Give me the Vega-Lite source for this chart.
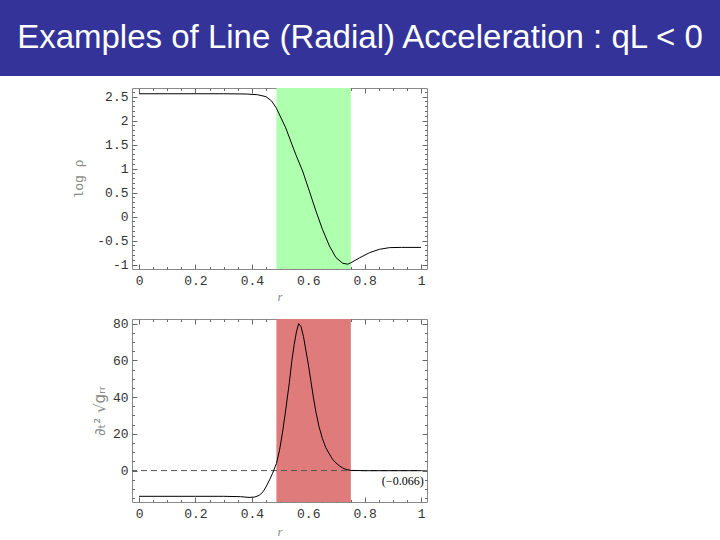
{
  "$schema": "https://vega.github.io/schema/vega-lite/v6.json",
  "padding": 0,
  "background": "white",
  "spacing": 6,
  "config": {
    "view": {"stroke": null},
    "axis": {
      "grid": false,
      "domain": false,
      "labelFont": "Liberation Mono",
      "labelFontSize": 13,
      "labelColor": "#333333",
      "labelOverlap": false,
      "labelBound": false,
      "tickColor": "#666666",
      "tickWidth": 1,
      "tickSize": 5,
      "offset": -5,
      "labelPadding": 4,
      "titleFontWeight": "normal",
      "titleColor": "#8a8a8a",
      "titleFontSize": 13
    }
  },
  "datasets": {
    "banner": [{"t": "Examples of Line (Radial) Acceleration :  qL < 0"}],
    "blank": [{"t": ""}],
    "band": [{"x0": 0.487, "x1": 0.751}],
    "zero": [{"v": 0}],
    "note": [{"r": 0.935, "v": -5.5, "label": "(−0.066)"}],
    "rho": [
      {"r": 0, "v": 2.56}, {"r": 0.1, "v": 2.56}, {"r": 0.2, "v": 2.56}, {"r": 0.3, "v": 2.56},
      {"r": 0.38, "v": 2.555}, {"r": 0.42, "v": 2.54}, {"r": 0.45, "v": 2.5}, {"r": 0.47, "v": 2.41},
      {"r": 0.487, "v": 2.26}, {"r": 0.52, "v": 1.85}, {"r": 0.556, "v": 1.29}, {"r": 0.58, "v": 0.95},
      {"r": 0.604, "v": 0.53}, {"r": 0.627, "v": 0.12}, {"r": 0.65, "v": -0.26}, {"r": 0.675, "v": -0.61},
      {"r": 0.698, "v": -0.85}, {"r": 0.722, "v": -0.97}, {"r": 0.74, "v": -0.99}, {"r": 0.751, "v": -0.96},
      {"r": 0.781, "v": -0.86}, {"r": 0.817, "v": -0.75}, {"r": 0.852, "v": -0.68}, {"r": 0.888, "v": -0.645},
      {"r": 0.93, "v": -0.64}, {"r": 1.0, "v": -0.64}
    ],
    "acc": [
      {"r": 0, "v": -14}, {"r": 0.2, "v": -14}, {"r": 0.3, "v": -14}, {"r": 0.36, "v": -14.2},
      {"r": 0.39, "v": -14.6}, {"r": 0.41, "v": -14.4}, {"r": 0.426, "v": -13.5}, {"r": 0.44, "v": -11.5},
      {"r": 0.45, "v": -8.9}, {"r": 0.463, "v": -5}, {"r": 0.473, "v": -1.6}, {"r": 0.487, "v": 3.8},
      {"r": 0.498, "v": 11}, {"r": 0.509, "v": 21}, {"r": 0.52, "v": 33}, {"r": 0.533, "v": 48},
      {"r": 0.542, "v": 60}, {"r": 0.55, "v": 68.5}, {"r": 0.558, "v": 75.5}, {"r": 0.566, "v": 80},
      {"r": 0.574, "v": 78.5}, {"r": 0.583, "v": 73}, {"r": 0.592, "v": 65}, {"r": 0.6, "v": 58},
      {"r": 0.609, "v": 49}, {"r": 0.618, "v": 40}, {"r": 0.627, "v": 32}, {"r": 0.638, "v": 24},
      {"r": 0.65, "v": 17.5}, {"r": 0.662, "v": 12.5}, {"r": 0.675, "v": 9}, {"r": 0.686, "v": 6.2},
      {"r": 0.698, "v": 4.2}, {"r": 0.71, "v": 2.6}, {"r": 0.722, "v": 1.4}, {"r": 0.735, "v": 0.6},
      {"r": 0.751, "v": 0.1}, {"r": 0.8, "v": -0.066}, {"r": 1.0, "v": -0.066}
    ]
  },
  "vconcat": [
    {
      "width": 720,
      "height": 76,
      "view": {"fill": "#333399", "stroke": null},
      "data": {"name": "banner"},
      "mark": {"type": "text", "color": "white", "font": "Liberation Sans", "fontSize": 33},
      "encoding": {"text": {"field": "t"}}
    },
    {
      "spacing": 0,
      "hconcat": [
        {
          "width": 72,
          "height": 1,
          "view": {"stroke": null},
          "data": {"name": "blank"},
          "mark": {"type": "text"},
          "encoding": {"text": {"field": "t"}}
        },
        {
          "spacing": 13,
          "vconcat": [
            {
              "width": 295,
              "height": 181,
              "view": {"stroke": "#8a8a8a"},
              "resolve": {"axis": {"x": "independent", "y": "independent"}},
              "layer": [
                {
                  "data": {"name": "band"},
                  "mark": {"type": "rect", "color": "#aeffae"},
                  "encoding": {
                    "x": {"field": "x0", "type": "quantitative",
                      "scale": {"domain": [-0.025, 1.021], "nice": false, "zero": false},
                      "axis": {"orient": "bottom",
                        "values": [0, 0.05, 0.1, 0.15, 0.2, 0.25, 0.3, 0.35, 0.4, 0.45, 0.5, 0.55, 0.6, 0.65, 0.7, 0.75, 0.8, 0.85, 0.9, 0.95, 1],
                        "labelExpr": "abs(datum.value*5 - round(datum.value*5)) < 0.001 ? '' + datum.value : ''",
                        "tickDash": {"condition": {"test": "abs(datum.value*5 - round(datum.value*5)) < 0.001", "value": [10, 0]}, "value": [2.5, 2.5]},
                        "tickDashOffset": {"condition": {"test": "abs(datum.value*5 - round(datum.value*5)) < 0.001", "value": 0}, "value": 2.5},
                        "title": "r", "titleFont": "Liberation Serif", "titleFontStyle": "italic",
                        "labelPadding": 5, "titlePadding": 3}},
                    "x2": {"field": "x1"}
                  }
                },
                {
                  "data": {"name": "rho"},
                  "mark": {"type": "line", "color": "black", "strokeWidth": 1},
                  "encoding": {
                    "x": {"field": "r", "type": "quantitative",
                      "axis": {"orient": "top", "labels": false, "title": null,
                        "values": [0, 0.05, 0.1, 0.15, 0.2, 0.25, 0.3, 0.35, 0.4, 0.45, 0.5, 0.55, 0.6, 0.65, 0.7, 0.75, 0.8, 0.85, 0.9, 0.95, 1],
                        "tickDash": {"condition": {"test": "abs(datum.value*5 - round(datum.value*5)) < 0.001", "value": [10, 0]}, "value": [2.5, 2.5]},
                        "tickDashOffset": {"condition": {"test": "abs(datum.value*5 - round(datum.value*5)) < 0.001", "value": 0}, "value": 2.5}}},
                    "y": {"field": "v", "type": "quantitative",
                      "scale": {"domain": [-1.09, 2.68], "nice": false, "zero": false},
                      "axis": {"orient": "left",
                        "values": [-1, -0.9, -0.8, -0.7, -0.6, -0.5, -0.4, -0.3, -0.2, -0.1, 0, 0.1, 0.2, 0.3, 0.4, 0.5, 0.6, 0.7, 0.8, 0.9, 1, 1.1, 1.2, 1.3, 1.4, 1.5, 1.6, 1.7, 1.8, 1.9, 2, 2.1, 2.2, 2.3, 2.4, 2.5, 2.6],
                        "labelExpr": "abs(datum.value*2 - round(datum.value*2)) < 0.001 ? '' + datum.value : ''",
                        "tickDash": {"condition": {"test": "abs(datum.value*2 - round(datum.value*2)) < 0.001", "value": [10, 0]}, "value": [2.5, 2.5]},
                        "tickDashOffset": {"condition": {"test": "abs(datum.value*2 - round(datum.value*2)) < 0.001", "value": 0}, "value": 2.5},
                        "title": "log ρ", "titleFont": "Liberation Mono", "titlePadding": 11}}
                  }
                },
                {
                  "data": {"name": "rho"},
                  "mark": {"type": "line", "strokeOpacity": 0},
                  "encoding": {
                    "x": {"field": "r", "type": "quantitative", "axis": null},
                    "y": {"field": "v", "type": "quantitative",
                      "axis": {"orient": "right", "labels": false, "title": null,
                        "values": [-1, -0.9, -0.8, -0.7, -0.6, -0.5, -0.4, -0.3, -0.2, -0.1, 0, 0.1, 0.2, 0.3, 0.4, 0.5, 0.6, 0.7, 0.8, 0.9, 1, 1.1, 1.2, 1.3, 1.4, 1.5, 1.6, 1.7, 1.8, 1.9, 2, 2.1, 2.2, 2.3, 2.4, 2.5, 2.6],
                        "tickDash": {"condition": {"test": "abs(datum.value*2 - round(datum.value*2)) < 0.001", "value": [10, 0]}, "value": [2.5, 2.5]},
                        "tickDashOffset": {"condition": {"test": "abs(datum.value*2 - round(datum.value*2)) < 0.001", "value": 0}, "value": 2.5}}}
                  }
                }
              ]
            },
            {
              "width": 295,
              "height": 183,
              "view": {"stroke": "#8a8a8a"},
              "resolve": {"axis": {"x": "independent", "y": "independent"}},
              "layer": [
                {
                  "data": {"name": "band"},
                  "mark": {"type": "rect", "color": "#e07b7b"},
                  "encoding": {
                    "x": {"field": "x0", "type": "quantitative",
                      "scale": {"domain": [-0.025, 1.021], "nice": false, "zero": false},
                      "axis": {"orient": "bottom",
                        "values": [0, 0.05, 0.1, 0.15, 0.2, 0.25, 0.3, 0.35, 0.4, 0.45, 0.5, 0.55, 0.6, 0.65, 0.7, 0.75, 0.8, 0.85, 0.9, 0.95, 1],
                        "labelExpr": "abs(datum.value*5 - round(datum.value*5)) < 0.001 ? '' + datum.value : ''",
                        "tickDash": {"condition": {"test": "abs(datum.value*5 - round(datum.value*5)) < 0.001", "value": [10, 0]}, "value": [2.5, 2.5]},
                        "tickDashOffset": {"condition": {"test": "abs(datum.value*5 - round(datum.value*5)) < 0.001", "value": 0}, "value": 2.5},
                        "title": "r", "titleFont": "Liberation Serif", "titleFontStyle": "italic",
                        "labelPadding": 5, "titlePadding": 5}},
                    "x2": {"field": "x1"}
                  }
                },
                {
                  "data": {"name": "zero"},
                  "mark": {"type": "rule", "color": "#555555", "strokeDash": [6, 4], "strokeWidth": 1},
                  "encoding": {
                    "y": {"field": "v", "type": "quantitative",
                      "scale": {"domain": [-17.1, 82.5], "nice": false, "zero": false}, "axis": null}
                  }
                },
                {
                  "data": {"name": "acc"},
                  "mark": {"type": "line", "color": "black", "strokeWidth": 1},
                  "encoding": {
                    "x": {"field": "r", "type": "quantitative",
                      "axis": {"orient": "top", "labels": false, "title": null,
                        "values": [0, 0.05, 0.1, 0.15, 0.2, 0.25, 0.3, 0.35, 0.4, 0.45, 0.5, 0.55, 0.6, 0.65, 0.7, 0.75, 0.8, 0.85, 0.9, 0.95, 1],
                        "tickDash": {"condition": {"test": "abs(datum.value*5 - round(datum.value*5)) < 0.001", "value": [10, 0]}, "value": [2.5, 2.5]},
                        "tickDashOffset": {"condition": {"test": "abs(datum.value*5 - round(datum.value*5)) < 0.001", "value": 0}, "value": 2.5}}},
                    "y": {"field": "v", "type": "quantitative",
                      "axis": {"orient": "left",
                        "values": [-15, -10, -5, 0, 5, 10, 15, 20, 25, 30, 35, 40, 45, 50, 55, 60, 65, 70, 75, 80],
                        "labelExpr": "abs(datum.value/20 - round(datum.value/20)) < 0.001 ? '' + datum.value : ''",
                        "tickDash": {"condition": {"test": "abs(datum.value/20 - round(datum.value/20)) < 0.001", "value": [10, 0]}, "value": [2.5, 2.5]},
                        "tickDashOffset": {"condition": {"test": "abs(datum.value/20 - round(datum.value/20)) < 0.001", "value": 0}, "value": 2.5},
                        "title": "∂ₜ² √gᵣᵣ", "titleFont": "DejaVu Sans", "titleFontSize": 15, "titlePadding": 5}}
                  }
                },
                {
                  "data": {"name": "note"},
                  "mark": {"type": "text", "font": "Liberation Serif", "fontSize": 12, "color": "black"},
                  "encoding": {
                    "x": {"field": "r", "type": "quantitative", "axis": null},
                    "y": {"field": "v", "type": "quantitative", "axis": null},
                    "text": {"field": "label"}
                  }
                },
                {
                  "data": {"name": "acc"},
                  "mark": {"type": "line", "strokeOpacity": 0},
                  "encoding": {
                    "x": {"field": "r", "type": "quantitative", "axis": null},
                    "y": {"field": "v", "type": "quantitative",
                      "axis": {"orient": "right", "labels": false, "title": null,
                        "values": [-15, -10, -5, 0, 5, 10, 15, 20, 25, 30, 35, 40, 45, 50, 55, 60, 65, 70, 75, 80],
                        "tickDash": {"condition": {"test": "abs(datum.value/20 - round(datum.value/20)) < 0.001", "value": [10, 0]}, "value": [2.5, 2.5]},
                        "tickDashOffset": {"condition": {"test": "abs(datum.value/20 - round(datum.value/20)) < 0.001", "value": 0}, "value": 2.5}}}
                  }
                }
              ]
            }
          ]
        }
      ]
    }
  ]
}
